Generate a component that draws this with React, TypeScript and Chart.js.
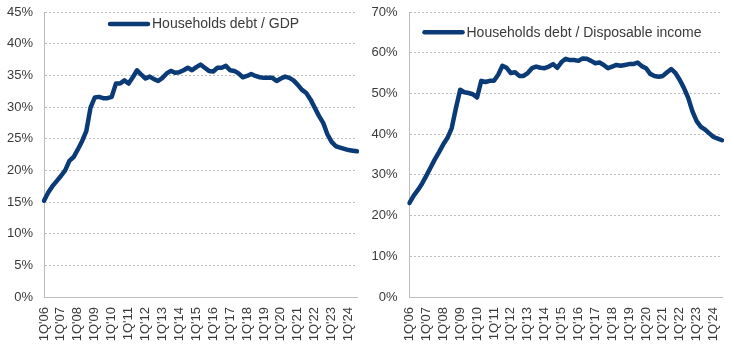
import React, { useEffect, useRef } from 'react';
import { Chart, registerables } from 'chart.js';

Chart.register(...registerables);

const quarterLabels = [
  "1Q'06", "2Q'06", "3Q'06", "4Q'06", "1Q'07", "2Q'07", "3Q'07", "4Q'07",
  "1Q'08", "2Q'08", "3Q'08", "4Q'08", "1Q'09", "2Q'09", "3Q'09", "4Q'09",
  "1Q'10", "2Q'10", "3Q'10", "4Q'10", "1Q'11", "2Q'11", "3Q'11", "4Q'11",
  "1Q'12", "2Q'12", "3Q'12", "4Q'12", "1Q'13", "2Q'13", "3Q'13", "4Q'13",
  "1Q'14", "2Q'14", "3Q'14", "4Q'14", "1Q'15", "2Q'15", "3Q'15", "4Q'15",
  "1Q'16", "2Q'16", "3Q'16", "4Q'16", "1Q'17", "2Q'17", "3Q'17", "4Q'17",
  "1Q'18", "2Q'18", "3Q'18", "4Q'18", "1Q'19", "2Q'19", "3Q'19", "4Q'19",
  "1Q'20", "2Q'20", "3Q'20", "4Q'20", "1Q'21", "2Q'21", "3Q'21", "4Q'21",
  "1Q'22", "2Q'22", "3Q'22", "4Q'22", "1Q'23", "2Q'23", "3Q'23", "4Q'23",
  "1Q'24", "2Q'24", "3Q'24",
];

const debtToGdp = [
  15.2, 16.5, 17.5, 18.3, 19.1, 20.0, 21.5, 22.1, 23.3, 24.6,
  26.2, 29.9, 31.5, 31.6, 31.4, 31.4, 31.6, 33.7, 33.7, 34.2,
  33.7, 34.7, 35.8, 35.1, 34.5, 34.8, 34.4, 34.1, 34.6, 35.3,
  35.7, 35.4, 35.5, 35.8, 36.2, 35.8, 36.3, 36.7, 36.2, 35.7,
  35.6, 36.2, 36.2, 36.5, 35.8, 35.7, 35.3, 34.7, 34.9, 35.2,
  34.9, 34.7, 34.6, 34.6, 34.6, 34.1, 34.5, 34.8, 34.6, 34.2,
  33.5, 32.7, 32.2, 31.2, 29.9, 28.6, 27.5, 25.7, 24.5, 23.8,
  23.6, 23.4, 23.2, 23.1, 23.0,
];

const debtToIncome = [
  23.1, 24.9, 26.3, 27.9, 29.8, 31.8, 33.8, 35.6, 37.5, 39.1,
  41.5, 46.4, 50.9, 50.3, 50.1, 49.8, 49.0, 53.1, 52.8, 53.1,
  53.1, 54.6, 56.8, 56.3, 55.0, 55.2, 54.3, 54.3, 55.0, 56.2,
  56.6, 56.3, 56.2, 56.6, 57.2, 56.3, 57.7, 58.5, 58.2, 58.2,
  58.0, 58.6, 58.5, 58.0, 57.4, 57.6, 57.0, 56.2, 56.6, 57.0,
  56.8, 57.0, 57.2, 57.2, 57.6, 56.7, 56.2, 54.8, 54.3, 54.1,
  54.3, 55.2, 56.0, 55.0, 53.3, 51.3, 48.9, 45.6, 43.2, 41.8,
  41.1, 40.2, 39.3, 38.9, 38.5,
];

const gdpSeriesName = 'Households debt / GDP';
const incomeSeriesName = 'Households debt / Disposable income';
const gdpAxis = { max: 45, step: 5 };
const incomeAxis = { max: 70, step: 10 };

const FONT = "'Liberation Sans', Arial, Helvetica, sans-serif";
const LINE_COLOR = '#0b3b76';
const TEXT_COLOR = '#3a3a3a';
const GRID_COLOR = '#bdbdbd';

// legend drawn inside the plot area (offsets relative to the chart area)
const insideLegend = {
  id: 'insideLegend',
  afterDraw(chart: any, _args: any, opts: any) {
    const { ctx, chartArea } = chart;
    const ds = chart.data.datasets[0];
    const y = chartArea.top + opts.dy;
    const x1 = chartArea.left + opts.dx;
    const x2 = x1 + opts.lineLength;
    ctx.save();
    ctx.strokeStyle = ds.borderColor;
    ctx.lineWidth = 4.5;
    ctx.lineCap = 'round';
    ctx.beginPath();
    ctx.moveTo(x1, y);
    ctx.lineTo(x2, y);
    ctx.stroke();
    ctx.fillStyle = TEXT_COLOR;
    ctx.font = `14px ${FONT}`;
    ctx.textBaseline = 'middle';
    ctx.textAlign = 'left';
    ctx.fillText(ds.label, x2 + opts.gap, y + 0.5);
    ctx.restore();
  },
};

type PanelProps = {
  label: string;
  values: number[];
  axis: { max: number; step: number };
  yWidth: number;
  yPad: number;
  rightPad: number;
  legendDx: number;
  legendDy: number;
  width: number;
};

function Panel(p: PanelProps) {
  const ref = useRef<HTMLCanvasElement | null>(null);
  useEffect(() => {
    if (!ref.current) return;
    const chart = new Chart(ref.current, {
      type: 'line',
      data: {
        labels: quarterLabels,
        datasets: [
          {
            label: p.label,
            data: p.values,
            borderColor: LINE_COLOR,
            backgroundColor: LINE_COLOR,
            borderWidth: 4.5,
            pointRadius: 0,
            tension: 0,
            borderJoinStyle: 'round',
            borderCapStyle: 'round',
            fill: false,
          },
        ],
      },
      options: {
        responsive: false,
        animation: false,
        layout: { padding: { top: 12, left: 0, right: p.rightPad, bottom: 0 } },
        plugins: {
          tooltip: { enabled: false },
          legend: { display: false },
          insideLegend: { dx: p.legendDx, dy: p.legendDy, lineLength: 38, gap: 4 },
        },
        scales: {
          x: {
            type: 'category',
            offset: false,
            grid: { display: false, drawTicks: false },
            border: { display: true, color: GRID_COLOR, width: 1 },
            ticks: {
              autoSkip: false,
              minRotation: 90,
              maxRotation: 90,
              padding: 10,
              color: TEXT_COLOR,
              font: { family: FONT, size: 13 },
              callback: (_v: any, i: number) => (i % 4 === 0 ? quarterLabels[i] : ''),
            },
            afterFit: (s: any) => {
              s.height = 49;
              s.paddingLeft = 0;
              s.paddingRight = 0;
            },
          },
          y: {
            min: 0,
            max: p.axis.max,
            grid: { color: GRID_COLOR, drawTicks: false, lineWidth: 1 },
            border: { display: true, color: GRID_COLOR, width: 1, dash: [2, 2] },
            ticks: {
              stepSize: p.axis.step,
              padding: p.yPad,
              color: TEXT_COLOR,
              font: { family: FONT, size: 13 },
              callback: (v: any) => `${v}%`,
            },
            afterFit: (s: any) => {
              s.width = p.yWidth;
              s.paddingTop = 0;
              s.paddingBottom = 0;
            },
          },
        },
      },
      plugins: [insideLegend],
    } as any);
    return () => chart.destroy();
  }, []);
  return <canvas ref={ref} width={p.width} height={346} style={{ display: 'block' }} />;
}

export default function App() {
  return (
    <div
      style={{
        position: 'fixed',
        left: 0,
        top: 0,
        width: 734,
        height: 346,
        display: 'flex',
        background: '#ffffff',
      }}
    >
      <Panel
        label={gdpSeriesName}
        values={debtToGdp}
        axis={gdpAxis}
        yWidth={44}
        yPad={11}
        rightPad={10}
        legendDx={66}
        legendDy={12}
        width={367}
      />
      <Panel
        label={incomeSeriesName}
        values={debtToIncome}
        axis={incomeAxis}
        yWidth={42.5}
        yPad={12}
        rightPad={12}
        legendDx={15}
        legendDy={20.3}
        width={367}
      />
    </div>
  );
}
